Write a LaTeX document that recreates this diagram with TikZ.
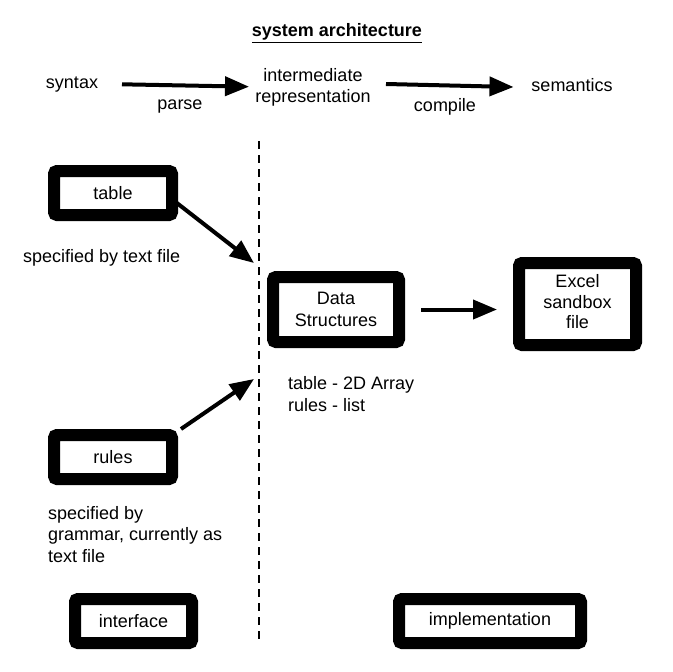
\documentclass[tikz,border=0pt]{standalone}
\usepackage{fontspec}
\setmainfont{Liberation Sans}
\usetikzlibrary{arrows.meta,calc}
\begin{document}
\begin{tikzpicture}[x=1pt,y=-1pt,
  every node/.style={font=\fontsize{18}{21.6}\selectfont, inner sep=0pt},
  box/.style={draw=black, line width=12pt, rounded corners=3pt, align=center},
  lbl/.style={align=center},
  note/.style={align=left, anchor=west},
  arr/.style={line width=4pt, -{Triangle[length=24pt,width=19pt]}},
  divider/.style={line width=2pt, dash pattern=on 8pt off 6pt}
]
\useasboundingbox (0,0) rectangle (672,672);

% title
\node[lbl, font=\fontsize{18}{21.6}\selectfont\bfseries] (title) at (337,33) {\underline{system architecture}};

% top row
\node[lbl] (syntax) at (72,85) {syntax};
\node[lbl] (ir) at (313,87.5) {intermediate\\representation};
\node[lbl] (sem) at (572,85) {semantics};
\node[lbl] (parse) at (180,107) {parse};
\node[lbl] (compile) at (445,107) {compile};
\coordinate (a1s) at (122,84.3);
\coordinate (a1e) at (249,86.7);
\coordinate (a2s) at (386,84);
\coordinate (a2e) at (513.5,87);
\draw[arr] (a1s) -- (a1e);
\draw[arr] (a2s) -- (a2e);

% divider
\coordinate (dtop) at (259.3,141);
\coordinate (dbot) at (259.3,639);
\draw[divider] (dtop) -- (dbot);

% boxes
\node[box, minimum width=118pt, minimum height=44pt] (table) at (113,193) {table};
\node[box, minimum width=126pt, minimum height=65pt] (ds) at (336,309.5) {Data\\Structures};
\node[box, minimum width=117pt, minimum height=82pt, font=\fontsize{18}{20.5}\selectfont] (excel) at (577.5,304) {\raisebox{-2.5pt}{\begin{tabular}{@{}c@{}}Excel\\sandbox\\file\end{tabular}}};
\node[box, minimum width=118pt, minimum height=44pt] (rules) at (113,457) {rules};
\node[box, minimum width=117pt, minimum height=44pt] (iface) at (133.5,621) {interface};
\node[box, minimum width=182pt, minimum height=44pt] (impl) at (490,621) {implementation};

% notes
\node[note] (n1) at (23,258) {specified by text file};
\node[note] (n2) at (288,394) {table - 2D Array\\rules - list};
\node[note] (n3) at (48,534.5) {specified by\\grammar, currently as\\text file};

% connectors
\coordinate (t1) at (254,263);
\coordinate (r1) at (254,379);
\draw[arr] ($(table.east)+(-5,7)$) -- (t1);
\draw[arr] ($(rules.north east)+(3,0)$) -- (r1);
\draw[arr] ($(ds.east)+(16,0)$) -- ($(excel.west)+(-16,5.5)$);
\end{tikzpicture}
\end{document}
